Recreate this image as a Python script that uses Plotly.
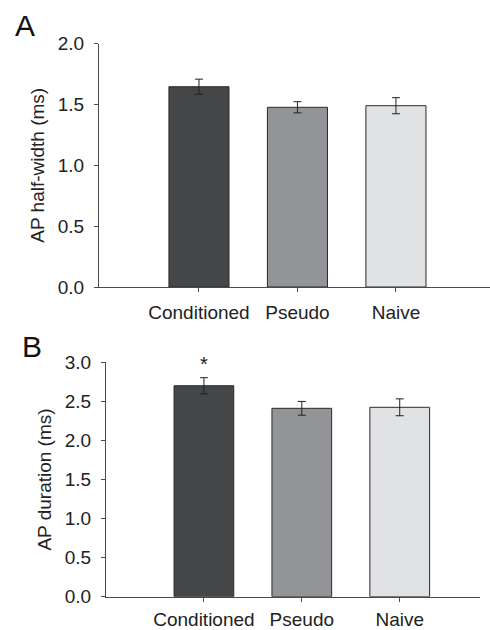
import plotly.graph_objects as go

categories = ["Conditioned", "Pseudo", "Naive"]
half_width = [1.645, 1.476, 1.489]
half_width_err = [0.062, 0.046, 0.066]
duration = [2.70, 2.411, 2.424]
duration_err = [0.103, 0.088, 0.108]
bar_colors = ["#454648", "#939497", "#e1e2e4"]
a_ticks = [0.0, 0.5, 1.0, 1.5, 2.0]
b_ticks = [0.0, 0.5, 1.0, 1.5, 2.0, 2.5, 3.0]

FONT = "Liberation Sans, Arial, sans-serif"
W, H = 490, 630

fig = go.Figure()
xs = list(range(len(categories)))

fig.add_trace(go.Bar(
    x=xs, y=half_width, width=0.61,
    marker=dict(color=bar_colors, line=dict(color="#2a2a2a", width=1)),
    error_y=dict(type="data", array=half_width_err, color="#222222", thickness=1, width=4),
    xaxis="x", yaxis="y", showlegend=False))
fig.add_trace(go.Bar(
    x=xs, y=duration, width=0.61,
    marker=dict(color=bar_colors, line=dict(color="#2a2a2a", width=1)),
    error_y=dict(type="data", array=duration_err, color="#222222", thickness=1, width=4),
    xaxis="x2", yaxis="y2", showlegend=False))

axis_common = dict(showgrid=False, zeroline=False, showline=True, linecolor="#4a4a4a",
                   linewidth=1, ticks="outside", tickcolor="#4a4a4a", ticklen=4,
                   automargin=False,
                   tickfont=dict(family=FONT, size=19, color="#222222"))

fig.update_layout(
    width=W, height=H, margin=dict(l=0, r=0, t=0, b=0, autoexpand=False),
    paper_bgcolor="white", plot_bgcolor="white", bargap=0.39,
    xaxis=dict(domain=[99 / W, 1.0], range=[-1.015, 2.955], tickvals=xs, ticktext=categories,
               anchor="y", ticklabelstandoff=4, **axis_common),
    yaxis=dict(domain=[1 - 287 / H, 1 - 43.5 / H], range=[0, 2.0], tickvals=a_ticks,
               tickformat=".1f", anchor="x", ticklabelstandoff=6,
               title=dict(text="AP half-width (ms)", font=dict(family=FONT, size=19, color="#222222"), standoff=8),
               **axis_common),
    xaxis2=dict(domain=[106 / W, 480 / W], range=[-1.0, 2.82], tickvals=xs, ticktext=categories,
                anchor="y2", ticklabelstandoff=1, **axis_common),
    yaxis2=dict(domain=[1 - 596.7 / H, 1 - 362.3 / H], range=[0, 3.0], tickvals=b_ticks,
                tickformat=".1f", anchor="x2", ticklabelstandoff=6,
                title=dict(text="AP duration (ms)", font=dict(family=FONT, size=19, color="#222222"), standoff=8),
                **axis_common),
)

fig.add_annotation(text="A", x=25 / W, y=1 - 26 / H, xref="paper", yref="paper",
                   showarrow=False, font=dict(family=FONT, size=30, color="#111111"),
                   xanchor="center", yanchor="middle")
fig.add_annotation(text="B", x=32 / W, y=1 - 346 / H, xref="paper", yref="paper",
                   showarrow=False, font=dict(family=FONT, size=30, color="#111111"),
                   xanchor="center", yanchor="middle")
fig.add_annotation(text="*", x=0, y=duration[0] + duration_err[0], xref="x2", yref="y2",
                   showarrow=False, font=dict(family=FONT, size=20, color="#222222"),
                   xanchor="center", yanchor="bottom", yshift=1)

fig.write_html("out.html", config={"displayModeBar": False},
               post_script="document.body.style.margin='0';document.body.style.overflow='hidden';")
